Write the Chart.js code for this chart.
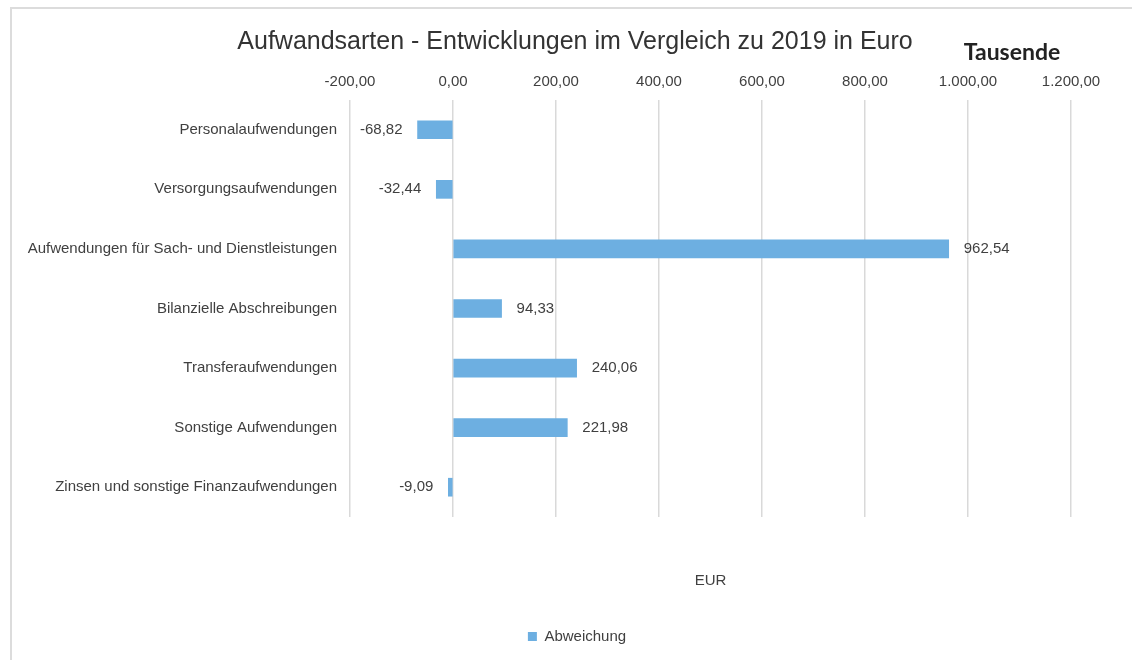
<!DOCTYPE html>
<html lang="de">
<head>
<meta charset="utf-8">
<title>Aufwandsarten</title>
<script src="https://cdn.jsdelivr.net/npm/chart.js@4"></script>
<style>
    html, body { margin: 0; padding: 0; background: #fff; overflow: hidden; }
    #frame {
        position: absolute; left: 10px; top: 7px; width: 1200px; height: 700px;
        border: 2px solid #dcdcdc; box-sizing: border-box;
    }
    #chart { position: absolute; left: 0; top: 0; }
</style>
</head>
<body>
<div id="frame"></div>
<canvas id="chart" width="1132" height="660"></canvas>
<script>
// Werte in Tausend Euro
const categories = [
    'Personalaufwendungen',
    'Versorgungsaufwendungen',
    'Aufwendungen für Sach- und Dienstleistungen',
    'Bilanzielle Abschreibungen',
    'Transferaufwendungen',
    'Sonstige Aufwendungen',
    'Zinsen und sonstige Finanzaufwendungen'
];
const abweichung = [-68.82, -32.44, 962.54, 94.33, 240.06, 221.98, -9.09];
const axisMin = -200;
const axisMax = 1200;
const axisStep = 200;

const FONT = "'Liberation Sans', Arial, sans-serif";
const labelColor = '#404040';

// deutsches Zahlenformat: 1.000,00
function formatDe(v) {
    const neg = v < 0;
    const parts = Math.abs(v).toFixed(2).split('.');
    const int = parts[0].replace(/\B(?=(\d{3})+(?!\d))/g, '.');
    return (neg ? '-' : '') + int + ',' + parts[1];
}

const extraText = {
    id: 'extraText',
    afterDraw(chart) {
        const ctx = chart.ctx;
        ctx.save();
        ctx.textBaseline = 'middle';
        ctx.textAlign = 'center';
        ctx.fillStyle = '#333';
        ctx.font = `25px ${FONT}`;
        ctx.fillText('Aufwandsarten - Entwicklungen im Vergleich zu 2019 in Euro', 575, 42);
        ctx.fillStyle = '#222';
        ctx.font = "bold 23px Lato, 'Open Sans', sans-serif";
        ctx.fillText('Tausende', 1012, 53);
        ctx.restore();
    }
};

const valueLabels = {
    id: 'valueLabels',
    afterDatasetsDraw(chart) {
        const ctx = chart.ctx;
        const meta = chart.getDatasetMeta(0);
        ctx.save();
        ctx.font = `15px ${FONT}`;
        ctx.fillStyle = labelColor;
        ctx.textBaseline = 'middle';
        meta.data.forEach((bar, i) => {
            const v = abweichung[i];
            if (v >= 0) {
                ctx.textAlign = 'left';
                ctx.fillText(formatDe(v), bar.x + 15, bar.y);
            } else {
                ctx.textAlign = 'right';
                ctx.fillText(formatDe(v), bar.x - 15, bar.y);
            }
        });
        ctx.restore();
    }
};

new Chart(document.getElementById('chart'), {
    type: 'bar',
    data: {
        labels: categories,
        datasets: [{
            label: 'Abweichung',
            data: abweichung,
            backgroundColor: '#6DAFE1',
            borderWidth: 0,
            barThickness: 18
        }]
    },
    options: {
        indexAxis: 'y',
        responsive: false,
        animation: false,
        devicePixelRatio: 1,
        layout: { padding: { left: 22, right: 0, top: 60, bottom: 6 } },
        scales: {
            x: {
                position: 'top',
                min: axisMin,
                max: axisMax,
                ticks: {
                    stepSize: axisStep,
                    padding: 9,
                    color: labelColor,
                    font: { family: FONT, size: 15 },
                    callback: v => formatDe(v)
                },
                grid: { color: '#d9d9d9', lineWidth: 1.5, drawTicks: false },
                border: { display: false },
                afterFit: s => { s.height = 40; }
            },
            x2: {
                type: 'linear',
                position: 'bottom',
                grid: { display: false },
                border: { display: false },
                ticks: { display: false },
                title: {
                    display: true,
                    text: 'EUR',
                    color: labelColor,
                    font: { family: FONT, size: 15 },
                    padding: { top: 0, bottom: 29 }
                },
                afterFit: s => { s.height = 102; }
            },
            y: {
                grid: { display: false, drawTicks: false },
                border: { display: false },
                ticks: {
                    padding: 13,
                    color: labelColor,
                    font: { family: FONT, size: 15 }
                },
                afterFit: s => { s.width = 328; }
            },
            y2: {
                type: 'linear',
                position: 'right',
                grid: { display: false },
                border: { display: false },
                ticks: { display: false },
                afterFit: s => { s.width = 61; }
            }
        },
        plugins: {
            legend: {
                position: 'bottom',
                labels: {
                    boxWidth: 9,
                    boxHeight: 9,
                    color: labelColor,
                    font: { family: FONT, size: 15 }
                }
            },
            tooltip: { enabled: false }
        }
    },
    plugins: [extraText, valueLabels]
});
</script>
</body>
</html>
